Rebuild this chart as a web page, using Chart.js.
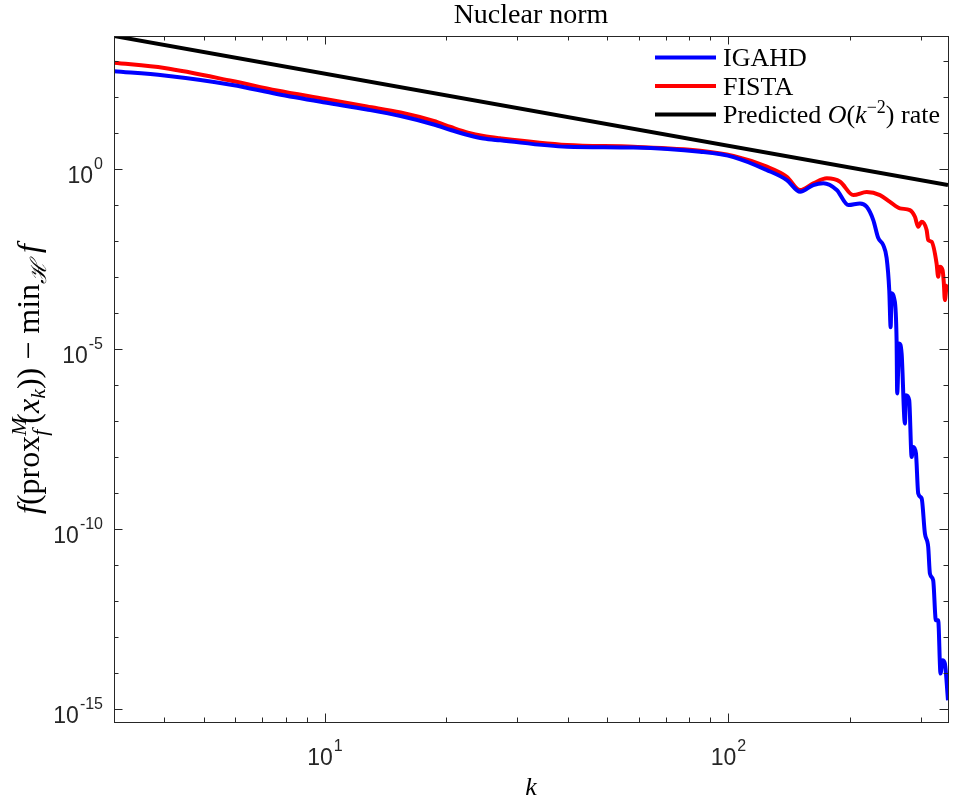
<!DOCTYPE html>
<html>
<head>
<meta charset="utf-8">
<script src="https://cdn.jsdelivr.net/npm/chart.js@4.4.0/dist/chart.umd.min.js"></script>
<style>
  html, body { margin: 0; padding: 0; background: #fff; }
  #wrap { position: relative; width: 957px; height: 803px; }
</style>
</head>
<body>
<div id="wrap"><canvas id="nuclearChart"></canvas></div>
<script>
// iterations k and f(prox(x_k)) - min f
const kIgahd = [3, 4.0, 5.9, 7.6, 10, 12.7, 15.4, 18.6, 20.5, 22.6, 24.7, 27.2, 39.8, 58.1, 85.1, 102.9, 124.5, 139.5, 150.5, 162.3, 171.9, 185.5,
  198.2, 211.8, 220.1, 228.5, 235.1, 241.9, 246.6, 250.3, 252.3, 253.7, 257.5, 261.0, 261.9, 264.9, 268.6, 273.7, 275.4, 280.5,
  284.4, 287.0, 291.5, 295.3, 301.1, 306.8, 312.6, 315.7, 321.6, 326.6, 330.9, 335.4, 339.3, 343.8, 350];
const gapIgahd = [506, 387, 211, 119, 68.9, 44.0, 29.0, 16.9, 11.9, 8.63, 6.89, 6.14, 4.08, 3.88, 2.96, 2.11, 0.92, 0.486, 0.230, 0.352, 0.393, 0.256,
  0.098, 0.109, 0.088, 0.0377, 0.0119, 0.0076, 3.32e-3, 4.3e-4, 4.0e-5, 3.5e-4, 2.5e-4, 1.75e-5, 5.8e-7, 1.42e-5, 7.5e-6, 8.5e-8, 5.2e-7, 3.8e-7,
  1.0e-8, 1.9e-8, 1.26e-8, 9.7e-10, 7.1e-10, 7.5e-11, 3.2e-11, 5.8e-12, 3.8e-12, 2.96e-13, 2.96e-13, 9.8e-15, 2.3e-14, 1.86e-14, 1.78e-15];

const kFista = [3, 4.0, 5.9, 7.6, 10, 12.7, 15.4, 18.6, 20.5, 22.6, 24.7, 27.2, 39.8, 58.1, 85.1, 102.9, 124.5, 139.5, 150.5, 162.3, 175.3, 189.1,
  203.9, 220.1, 237.4, 251.3, 266.1, 281.6, 289.8, 295.3, 301.1, 309.8, 312.6, 318.8, 327.9, 330.9, 334.1, 339.3, 341.8, 343.8, 347.1, 350];
const gapFista = [877, 625, 272, 148, 86.1, 53.3, 36.3, 21.1, 14.4, 10.1, 8.09, 6.98, 4.55, 4.08, 3.16, 2.25, 1.14, 0.60, 0.256, 0.393, 0.541, 0.436,
  0.186, 0.225, 0.186, 0.121, 0.0796, 0.0714, 0.0465, 0.0245, 0.0338, 0.0199, 0.0105, 0.0094, 2.37e-3, 1.0e-3, 1.9e-3, 1.54e-3, 6.6e-4, 2.26e-4, 5.3e-4, 5.9e-4];

const kRate = [3, 350];
const gapRate = [4.83e3, 0.355];

const seriesNames = ['IGAHD', 'FISTA'];

// axis ticks
const xMajorTicks = [10, 100];
const xMinorTicks = [4, 5, 6, 7, 8, 9, 20, 30, 40, 50, 60, 70, 80, 90, 200, 300];
const yMajorTicks = [1e-15, 1e-10, 1e-5, 1e0];
const yMinorTicks = [1e-14, 1e-13, 1e-12, 1e-11, 1e-9, 1e-8, 1e-7, 1e-6, 1e-4, 1e-3, 1e-2, 1e-1, 1e1, 1e2, 1e3];

const AXIS_COLOR = '#262626';
const SERIF = "'Liberation Serif', 'DejaVu Serif', serif";
const SANS = "'Liberation Sans', Arial, sans-serif";

function toPoints(xs, ys) {
    return xs.map((k, i) => ({ x: k, y: ys[i] }));
}

// draws a list of text runs left to right, returns the width
function drawRuns(ctx, runs, x0, y0, measureOnly) {
    let x = x0;
    runs.forEach(r => {
        ctx.font = (r.italic ? 'italic ' : '') + r.size + 'px ' + SERIF;
        const w = ctx.measureText(r.t).width;
        if (!measureOnly) ctx.fillText(r.t, x, y0 + (r.dy || 0));
        if (!r.noAdvance) x += w;
    });
    return x - x0;
}

function powerLabel(ctx, exp, x, baseline, align) {
    ctx.font = '23px ' + SANS;
    const wBase = ctx.measureText('10').width;
    ctx.font = '16px ' + SANS;
    const expText = String(exp);
    const wExp = ctx.measureText(expText).width;
    let left = align === 'right' ? x - wBase - wExp - 1 : x - (wBase + wExp + 1) / 2;
    ctx.font = '23px ' + SANS;
    ctx.fillText('10', left, baseline);
    ctx.font = '16px ' + SANS;
    ctx.fillText(expText, left + wBase + 1, baseline - 14);
}

const axesFrame = {
    id: 'axesFrame',
    afterDraw(chart) {
        const { ctx, chartArea: a, scales: { x, y } } = chart;
        ctx.save();
        ctx.strokeStyle = AXIS_COLOR;
        ctx.fillStyle = AXIS_COLOR;
        ctx.lineWidth = 1;
        ctx.strokeRect(a.left + 0.5, a.top + 0.5, a.right - a.left, a.bottom - a.top);

        const tick = (vals, len, horiz) => {
            vals.forEach(v => {
                ctx.beginPath();
                if (horiz) {
                    const px = Math.round(x.getPixelForValue(v)) + 0.5;
                    ctx.moveTo(px, a.bottom); ctx.lineTo(px, a.bottom - len);
                    ctx.moveTo(px, a.top); ctx.lineTo(px, a.top + len);
                } else {
                    const py = Math.round(y.getPixelForValue(v)) + 0.5;
                    ctx.moveTo(a.left, py); ctx.lineTo(a.left + len, py);
                    ctx.moveTo(a.right, py); ctx.lineTo(a.right - len, py);
                }
                ctx.stroke();
            });
        };
        tick(xMajorTicks, 8.5, true);
        tick(xMinorTicks, 4.5, true);
        tick(yMajorTicks, 8.5, false);
        tick(yMinorTicks, 4.5, false);

        // tick labels
        ctx.textAlign = 'left';
        ctx.textBaseline = 'alphabetic';
        xMajorTicks.forEach(v => {
            powerLabel(ctx, Math.round(Math.log10(v)), x.getPixelForValue(v), a.bottom + 43, 'center');
        });
        yMajorTicks.forEach(v => {
            powerLabel(ctx, Math.round(Math.log10(v)), a.left - 11, y.getPixelForValue(v) + 14, 'right');
        });

        // title and axis labels
        ctx.fillStyle = '#000';
        ctx.font = '28px ' + SERIF;
        ctx.textAlign = 'center';
        ctx.fillText('Nuclear norm', (a.left + a.right) / 2, 23);
        ctx.font = 'italic 26px ' + SERIF;
        ctx.fillText('k', (a.left + a.right) / 2, 795);
        ctx.textAlign = 'left';

        const yRuns = [
            { t: 'f', italic: true, size: 32 },
            { t: '(prox', size: 32 },
            { t: 'M', italic: true, size: 22, dy: -13, noAdvance: true },
            { t: 'f', italic: true, size: 22, dy: 8 },
            { t: '  ', size: 12 },
            { t: '(', size: 32 },
            { t: 'x', italic: true, size: 32 },
            { t: 'k', italic: true, size: 22, dy: 6 },
            { t: ')) \u2212 min', size: 32 },
            { t: '\u210B', italic: true, size: 22, dy: 7 },
            { t: ' f', italic: true, size: 32 }
        ];
        const yw = drawRuns(ctx, yRuns, 0, 0, true);
        ctx.save();
        ctx.translate(39, (a.top + a.bottom) / 2);
        ctx.rotate(-Math.PI / 2);
        drawRuns(ctx, yRuns, -yw / 2, 0, false);
        ctx.restore();

        // legend
        const legendRows = [
            { color: '#0000ff', runs: [{ t: seriesNames[0], size: 26 }] },
            { color: '#ff0000', runs: [{ t: seriesNames[1], size: 26 }] },
            { color: '#000000', runs: [
                { t: 'Predicted ', size: 26 },
                { t: 'O', italic: true, size: 26 },
                { t: '(', size: 26 },
                { t: 'k', italic: true, size: 26 },
                { t: '\u22122', size: 18, dy: -10 },
                { t: ') rate', size: 26 }
            ] }
        ];
        legendRows.forEach((row, i) => {
            const ly = 57.5 + i * 28.5;
            ctx.strokeStyle = row.color;
            ctx.lineWidth = 4;
            ctx.beginPath();
            ctx.moveTo(655, ly); ctx.lineTo(716, ly);
            ctx.stroke();
            ctx.fillStyle = '#000';
            drawRuns(ctx, row.runs, 723, ly + 8.5, false);
        });
        ctx.restore();
    }
};

new Chart(document.getElementById('nuclearChart'), {
    type: 'line',
    data: {
        datasets: [
            {
                label: seriesNames[0],
                data: toPoints(kIgahd, gapIgahd),
                borderColor: '#0000ff',
                borderWidth: 4,
                pointRadius: 0,
                cubicInterpolationMode: 'monotone'
            },
            {
                label: seriesNames[1],
                data: toPoints(kFista, gapFista),
                borderColor: '#ff0000',
                borderWidth: 4,
                pointRadius: 0,
                cubicInterpolationMode: 'monotone'
            },
            {
                label: 'Predicted O(k^-2) rate',
                data: toPoints(kRate, gapRate),
                borderColor: '#000000',
                borderWidth: 4,
                pointRadius: 0
            }
        ]
    },
    options: {
        responsive: true,
        maintainAspectRatio: false,
        animation: false,
        layout: { padding: { left: 114, top: 36, right: 9, bottom: 81 } },
        scales: {
            x: { type: 'logarithmic', min: 3, max: 350, display: false },
            y: { type: 'logarithmic', min: 4.43e-16, max: 4.83e3, display: false }
        },
        plugins: {
            legend: { display: false },
            tooltip: { enabled: false }
        }
    },
    plugins: [axesFrame]
});
</script>
</body>
</html>
